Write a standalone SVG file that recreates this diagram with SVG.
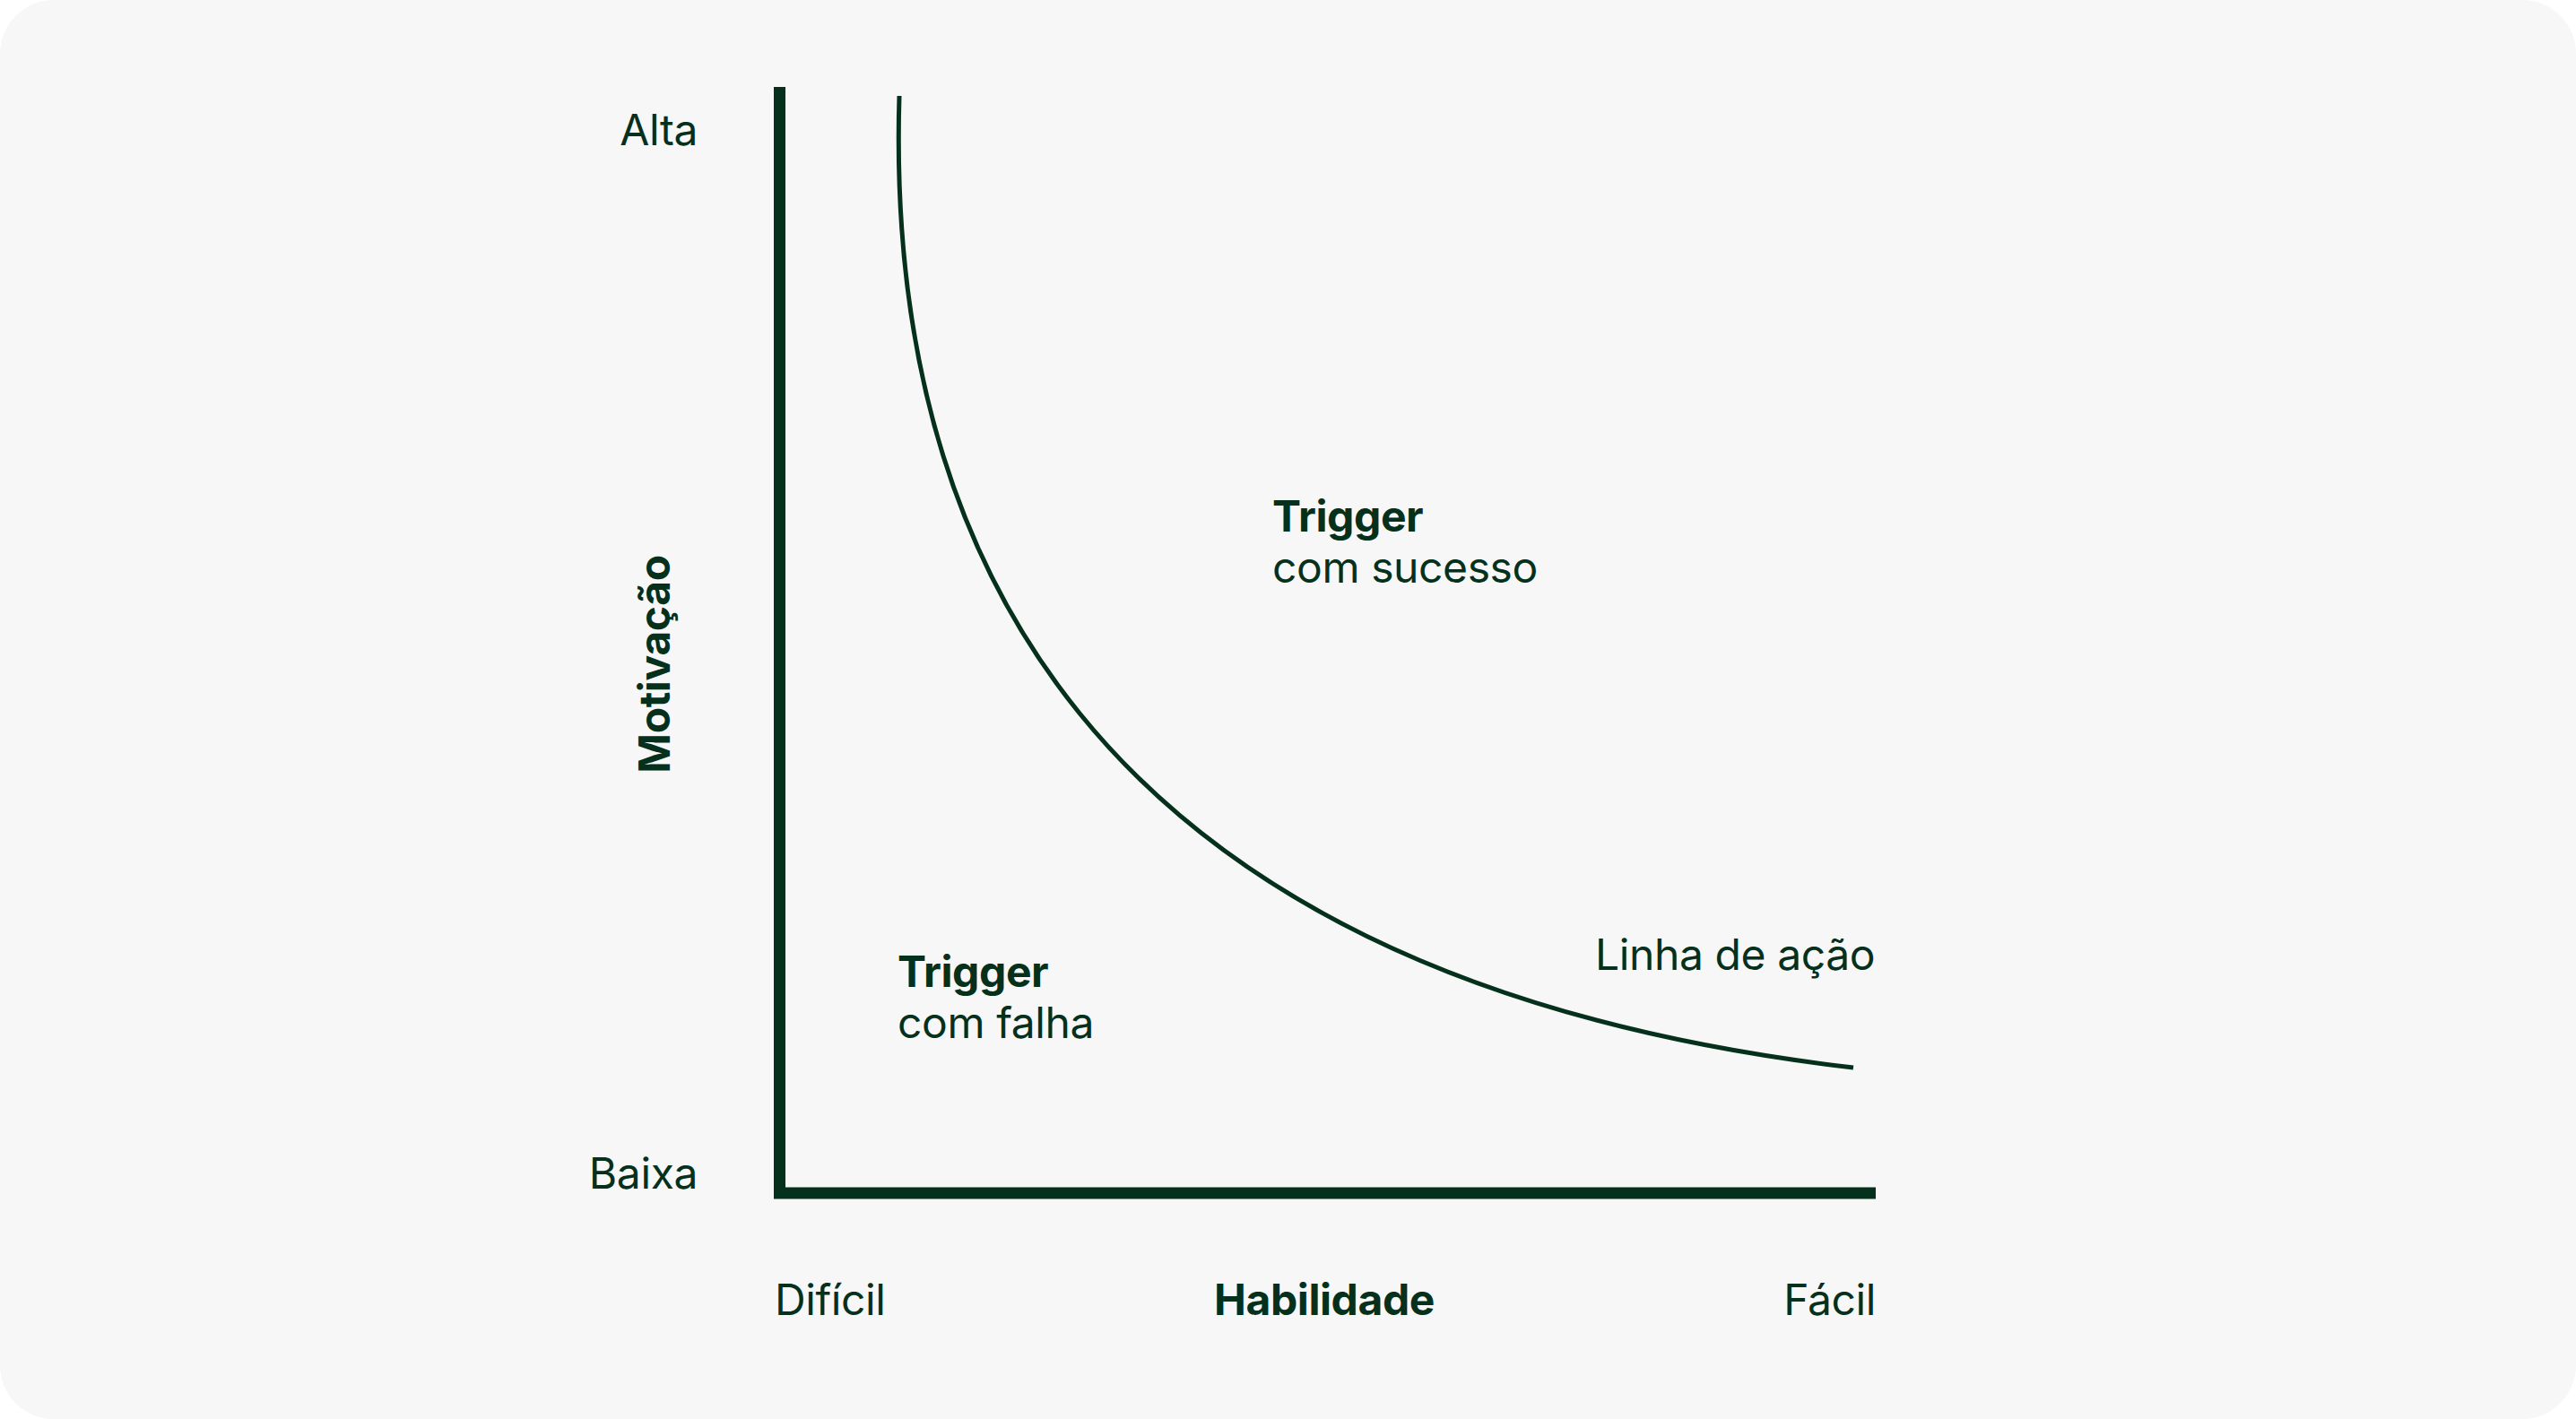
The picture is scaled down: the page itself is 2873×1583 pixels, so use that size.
<svg xmlns="http://www.w3.org/2000/svg" width="2873" height="1583" viewBox="0 0 2873 1583">
<style>
text{font-family:Inter,"Noto Sans","Liberation Sans",sans-serif;font-size:48px;letter-spacing:-0.4px;fill:#05301c}
.b{font-weight:700}
.r{text-anchor:end}
.m{text-anchor:middle}
.ax{fill:none;stroke:#05301c;stroke-width:13;stroke-linecap:butt;stroke-linejoin:miter}
.cv{fill:none;stroke:#05301c;stroke-width:5;stroke-linecap:butt}
</style>
<rect x="0" y="0" width="2873" height="1583" rx="60" ry="60" fill="#f7f7f7"/>
<g id="axes">
<path class="ax" d="M869.5,97 V1331 H2092"/>
</g>
<g id="connectors">
<path id="action-line" class="cv" d="M1003,107 C988,600 1200,1090 2067,1191"/>
</g>
<g id="y-axis-labels">
<text id="alta" class="r" x="778" y="162">Alta</text>
<text id="baixa" class="r" x="778" y="1326">Baixa</text>
<text id="motivacao" class="b m" transform="translate(747,741) rotate(-90)" x="0" y="0">Motivação</text>
</g>
<g id="x-axis-labels">
<text id="dificil" x="864" y="1467">Difícil</text>
<text id="habilidade" class="b m" x="1477" y="1467">Habilidade</text>
<text id="facil" class="r" x="2092" y="1467">Fácil</text>
</g>
<g id="node-sucesso">
<text x="1419" y="593"><tspan class="b">Trigger</tspan><tspan x="1419" y="650">com sucesso</tspan></text>
</g>
<g id="node-falha">
<text x="1001" y="1101"><tspan class="b">Trigger</tspan><tspan x="1001" y="1158">com falha</tspan></text>
</g>
<g id="label-linha">
<text x="1779" y="1082">Linha de ação</text>
</g>
</svg>
